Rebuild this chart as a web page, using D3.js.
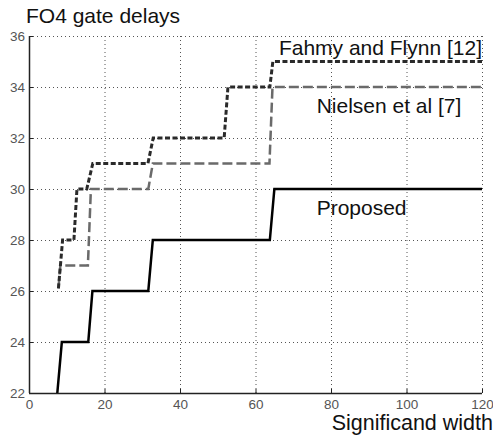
<!DOCTYPE html>
<html>
<head>
<meta charset="utf-8">
<script src="https://cdn.jsdelivr.net/npm/d3@7"></script>
<style>
  body { margin: 0; background: #fff; }
  svg { display: block; font-family: "Liberation Sans", Arial, sans-serif; }
</style>
</head>
<body>
<div id="wrapper"></div>
<script>
// values: [significand width, FO4 delays]
const proposed = [[7.5,22],[8.7,24],[15.7,24],[16.8,26],[31.6,26],[32.8,28],[63.8,28],[65,30],[120,30]]
const fahmy = [[7.8,26.1],[8.9,28],[11.9,28],[12.7,30],[15.3,30],[16.9,31],[31.5,31],[32.9,32],[51.7,32],[52.7,34],[63.8,34],[64.6,35],[120,35]]
const nielsen = [[7.8,26.1],[8.3,27],[15.6,27],[16.4,30],[31.6,30],[32.8,31],[63.7,31],[64.5,34],[120,34]]
const xTicks = [0, 20, 40, 60, 80, 100, 120]
const yTicks = [22, 24, 26, 28, 30, 32, 34, 36]
const seriesLabels = ["Fahmy and Flynn [12]", "Nielsen et al [7]", "Proposed"]

function drawChart() {
  // 1. dimensions
  let dimensions = {
    width: 493,
    height: 438,
    margin: { top: 36, right: 11, bottom: 45, left: 29 },
  }
  dimensions.boundedWidth = dimensions.width - dimensions.margin.left - dimensions.margin.right
  dimensions.boundedHeight = dimensions.height - dimensions.margin.top - dimensions.margin.bottom

  // 2. canvas
  const wrapper = d3.select("#wrapper")
    .append("svg")
      .attr("width", dimensions.width)
      .attr("height", dimensions.height)

  const bounds = wrapper.append("g")
      .attr("transform", `translate(${dimensions.margin.left},${dimensions.margin.top})`)

  // 3. scales
  const xScale = d3.scaleLinear()
    .domain([0, 120])
    .range([0, dimensions.boundedWidth])
  const yScale = d3.scaleLinear()
    .domain([22, 36])
    .range([dimensions.boundedHeight, 0])

  // 4. grid
  const grid = bounds.append("g")
  grid.selectAll(".vgrid")
    .data(xTicks.slice(1))
    .join("line")
      .attr("x1", d => xScale(d) + 0.5).attr("x2", d => xScale(d) + 0.5)
      .attr("y1", 0).attr("y2", dimensions.boundedHeight)
      .attr("stroke", "#555")
      .attr("stroke-width", 1)
      .attr("stroke-dasharray", "1,3")
  grid.selectAll(".hgrid")
    .data(yTicks.slice(1))
    .join("line")
      .attr("x1", 0).attr("x2", dimensions.boundedWidth)
      .attr("y1", d => yScale(d) + 0.5).attr("y2", d => yScale(d) + 0.5)
      .attr("stroke", "#555")
      .attr("stroke-width", 1)
      .attr("stroke-dasharray", "1,3")

  // 5. data
  const line = d3.line()
    .x(d => xScale(d[0]))
    .y(d => yScale(d[1]))

  bounds.append("path")
    .datum(nielsen)
    .attr("d", line)
    .attr("fill", "none")
    .attr("stroke", "#6a6a6a")
    .attr("stroke-width", 2.5)
    .attr("stroke-dasharray", "10,4")

  bounds.append("path")
    .datum(fahmy)
    .attr("d", line)
    .attr("fill", "none")
    .attr("stroke", "#2a2a2a")
    .attr("stroke-width", 3)
    .attr("stroke-dasharray", "5,2.5")

  bounds.append("path")
    .datum(proposed)
    .attr("d", line)
    .attr("fill", "none")
    .attr("stroke", "#000")
    .attr("stroke-width", 2.5)

  // 6. axes
  const xAxis = d3.axisBottom(xScale).tickValues(xTicks).tickSize(-4).tickPadding(6)
  const yAxis = d3.axisLeft(yScale).tickValues(yTicks).tickSize(-4).tickPadding(4)

  const xAxisG = bounds.append("g")
    .attr("transform", `translate(0,${dimensions.boundedHeight})`)
    .call(xAxis)
  const yAxisG = bounds.append("g").call(yAxis)

  ;[xAxisG, yAxisG].forEach(g => {
    g.select(".domain").attr("stroke", "#222").attr("stroke-width", 1.5)
    g.selectAll(".tick line").attr("stroke", "#222")
    g.selectAll(".tick text")
      .attr("fill", "#555")
      .style("font-size", "13.5px")
      .style("font-family", "'Liberation Sans', Arial, sans-serif")
  })
  xAxisG.select(".domain").attr("d", `M0,0.5H${dimensions.boundedWidth}`)
  yAxisG.select(".domain").attr("d", `M0.5,0V${dimensions.boundedHeight}`)

  // 7. labels
  wrapper.append("text")
    .attr("x", 26).attr("y", 23)
    .style("font-size", "21px")
    .attr("fill", "#111")
    .text("FO4 gate delays")

  wrapper.append("text")
    .attr("x", 493).attr("y", 430)
    .attr("text-anchor", "end")
    .style("font-size", "21.5px")
    .attr("fill", "#111")
    .text("Significand width")

  const labelPos = [
    { x: 120, y: 35.25, anchor: "end" },
    { x: 76.2, y: 32.98, anchor: "start" },
    { x: 76.2, y: 28.98, anchor: "start" },
  ]
  bounds.selectAll(".lbl")
    .data(seriesLabels)
    .join("text")
      .attr("x", (d, i) => xScale(labelPos[i].x))
      .attr("y", (d, i) => yScale(labelPos[i].y))
      .attr("text-anchor", (d, i) => labelPos[i].anchor)
      .style("font-size", "21px")
      .attr("fill", "#111")
      .text(d => d)
}

drawChart()
</script>
</body>
</html>
